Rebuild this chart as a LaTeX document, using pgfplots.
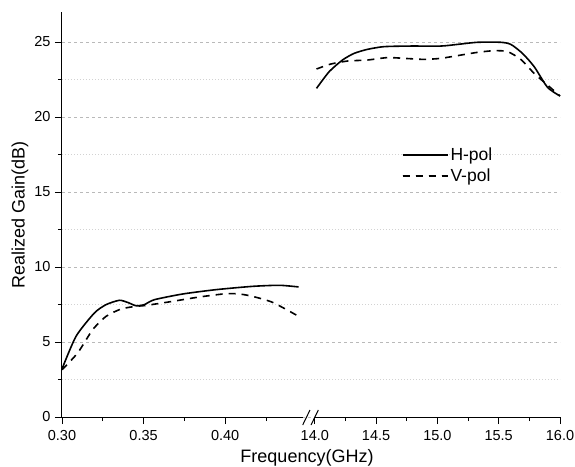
\documentclass[border=0pt]{standalone}
\usepackage{pgfplots}
\pgfplotsset{compat=1.18}
\usepackage{fontspec}
\setmainfont{Liberation Sans}

\pgfplotstableread{
f      g
0.3000 3.20
0.3086 5.38
0.3198 6.93
0.3270 7.49
0.3351 7.78
0.3402 7.64
0.3453 7.42
0.3504 7.49
0.3566 7.82
0.3739 8.20
0.3944 8.49
0.4168 8.71
0.4332 8.78
0.4450 8.67
}\hpolLow
\pgfplotstableread{
f      g
0.3000 3.15
0.3096 4.27
0.3188 5.82
0.3270 6.71
0.3362 7.20
0.3453 7.38
0.3515 7.44
0.3678 7.71
0.3841 8.00
0.4005 8.22
0.4087 8.20
0.4168 8.04
0.4291 7.64
0.4450 6.71
}\vpolLow
\pgfplotstableread{
f      g
14.014 21.91
14.117 23.02
14.226 23.80
14.320 24.24
14.430 24.51
14.565 24.69
14.783 24.73
15.028 24.73
15.164 24.84
15.327 24.98
15.517 24.98
15.599 24.84
15.694 24.24
15.789 23.36
15.898 21.98
16.000 21.40
}\hpolHigh
\pgfplotstableread{
f      g
14.014 23.20
14.130 23.53
14.267 23.73
14.430 23.80
14.593 23.96
14.729 23.91
14.892 23.84
15.028 23.91
15.164 24.09
15.327 24.31
15.463 24.42
15.572 24.36
15.680 23.84
15.789 22.91
15.898 22.13
16.000 21.40
}\vpolHigh

\begin{document}
\begin{tikzpicture}[x=1pt,y=1pt]
\useasboundingbox (-62,-49) rectangle (513,417);
\pgfplotsset{
  common/.style={
    scale only axis, height=405pt, ymin=0, ymax=27,
    enlargelimits=false, clip=false,
    tick align=outside, major tick length=7pt, minor tick length=4pt,
    tick style={black, line width=0.9pt},
    tick label style={font=\fontsize{14.5}{17}\selectfont},
    xticklabel style={yshift=-3pt},
    x axis line style={draw=none},
  },
  hp/.style={black, line width=1.6pt, smooth, tension=0.4},
  vp/.style={black, line width=1.6pt, smooth, tension=0.4, dash pattern=on 7pt off 6pt},
}
% left axis (full width, carries the y axis and grid)
\begin{axis}[common,
  at={(0,0)}, anchor=south west,
  width=498pt, xmin=0.30, xmax=0.60515,
  axis lines*=left,
  axis line style={line width=1pt},
  xtick={0.30,0.35,0.40}, xticklabels={0.30,0.35,0.40},
  minor xtick={0.325,0.375,0.425},
  ytick={0,5,10,15,20,25}, yticklabels={0,5,10,15,20,25},
  yticklabel style={xshift=-1pt},
  minor ytick={2.5,7.5,12.5,17.5,22.5},
  ymajorgrids, yminorgrids,
  major grid style={gray!55, line width=0.8pt, dash pattern=on 3pt off 3pt},
  minor grid style={gray!35, line width=0.8pt, dash pattern=on 1pt off 2pt},
  xlabel={Frequency(GHz)},
  ylabel={Realized Gain(dB)},
  label style={font=\fontsize{18}{21}\selectfont},
  xlabel style={yshift=-2pt, xshift=-4pt},
  ylabel style={yshift=-1pt},
]
\addplot[hp] table[x=f,y=g] {\hpolLow};
\addplot[vp] table[x=f,y=g] {\vpolLow};
\draw[line width=1pt] (axis cs:0.30,0) -- (axis cs:0.4477,0);
\end{axis}
% right axis
\begin{axis}[common,
  at={(246pt,0)}, anchor=south west,
  width=252pt, xmin=13.9445, xmax=16,
  axis x line*=bottom, hide y axis,
  xtick={14,14.5,15,15.5,16}, xticklabels={14.0,14.5,15.0,15.5,16.0},
  minor xtick={14.25,14.75,15.25,15.75},
  legend style={at={(0.36,0.675)}, anchor=north west, draw=none, fill=none,
    font=\fontsize{17.5}{20}\selectfont, row sep=3pt},
  legend cell align=left,
  legend image code/.code={\draw[#1, smooth=false] (0pt,0pt) -- (42pt,0pt);
    \path (0pt,0pt) -- (45pt,0pt);},
]
\addplot[hp] table[x=f,y=g] {\hpolHigh};
\addlegendentry{H-pol}
\addplot[vp] table[x=f,y=g] {\vpolHigh};
\addlegendentry{V-pol}
\draw[line width=1pt] (axis cs:14,0) -- (axis cs:16,0);
\end{axis}
% axis break marks
\draw[line width=1pt] (240.7,-8) -- (248,7);
\draw[line width=1pt] (249,-8) -- (256.3,7);
\end{tikzpicture}
\end{document}
